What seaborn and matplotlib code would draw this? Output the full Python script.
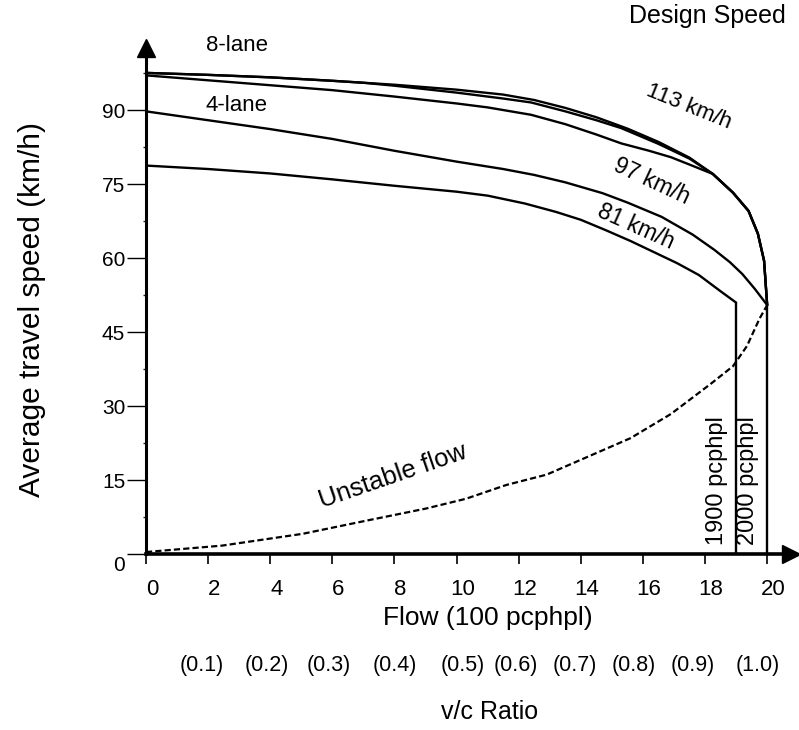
import matplotlib
matplotlib.use("Agg")
import matplotlib.pyplot as plt
import seaborn as sns
from matplotlib.transforms import ScaledTranslation

# speed-flow curves (flow in 100 pcphpl, speed in km/h)
flow_113_8lane = [0, 2, 4, 6, 8, 10, 11.5, 12.5, 13.5, 14.5, 15.5, 16.5, 17.5, 18.25, 18.9, 19.4, 19.7, 19.9, 20.0]
speed_113_8lane = [97.6, 97.2, 96.7, 96.0, 95.2, 94.2, 93.2, 92.1, 90.5, 88.6, 86.3, 83.6, 80.4, 77.1, 73.3, 69.6, 65.0, 59.5, 50.5]

flow_113_mid = [0, 2, 4, 6, 7, 8, 10, 11.5, 12.4, 13.5, 14.5, 15.3, 16.5, 17.5, 18.25, 18.9, 19.4, 19.7, 19.9, 20.0]
speed_113_mid = [97.6, 97.2, 96.7, 96.0, 95.6, 95.0, 93.6, 92.4, 91.6, 89.8, 88.0, 86.4, 83.2, 80.2, 77.1, 73.3, 69.6, 65.0, 59.5, 50.5]

flow_113_4lane = [0, 2, 4, 6, 8, 10, 11, 12.4, 13.5, 14.5, 15.3, 16.2, 16.9, 17.5, 18.25, 18.9, 19.4, 19.7, 19.9, 20.0]
speed_113_4lane = [97.1, 96.1, 95.1, 94.1, 92.8, 91.4, 90.6, 89.1, 87.2, 85.1, 83.3, 81.8, 80.5, 79.0, 77.1, 73.3, 69.6, 65.0, 59.5, 50.5]

flow_97 = [0, 2, 4, 6, 8, 10, 11.5, 12.5, 13.5, 14.7, 15.5, 16.6, 17.6, 18.3, 18.8, 19.2, 19.6, 20.0]
speed_97 = [89.8, 88.0, 86.2, 84.2, 81.8, 79.6, 78.1, 76.9, 75.4, 73.2, 71.3, 68.4, 64.8, 61.7, 59.2, 56.8, 53.8, 50.5]

flow_81 = [0, 2, 4, 6, 8, 10, 11, 12.2, 13.2, 14.0, 14.8, 15.6, 16.4, 17.1, 17.8, 18.5, 19.0]
speed_81 = [78.8, 78.1, 77.2, 76.0, 74.7, 73.5, 72.7, 71.1, 69.4, 67.8, 65.7, 63.5, 61.1, 59.0, 56.6, 53.3, 51.0]

flow_unstable = [0, 2.45, 5.05, 7.2, 9.0, 10.3, 11.6, 12.9, 14.25, 15.6, 16.9, 18.2, 18.9, 19.35, 19.75, 20.0]
speed_unstable = [0.4, 1.7, 4.1, 6.9, 9.2, 11.2, 14.0, 16.1, 19.8, 23.5, 28.4, 34.6, 38.1, 42.2, 47.7, 50.5]

cap_flow_1900 = [19, 19]
cap_speed_1900 = [0, 51.0]
cap_flow_2000 = [20, 20]
cap_speed_2000 = [0, 50.5]

x_ticks = [0, 2, 4, 6, 8, 10, 12, 14, 16, 18, 20]
y_ticks = [0, 15, 30, 45, 60, 75, 90]
vc_flow = [1.8, 3.9, 5.9, 8.0, 10.2, 11.9, 13.8, 15.7, 17.6, 19.7]
vc_labels = ["(0.1)", "(0.2)", "(0.3)", "(0.4)", "(0.5)", "(0.6)", "(0.7)", "(0.8)", "(0.9)", "(1.0)"]

sns.set_theme(style="white")
plt.rcParams['font.family'] = ['Liberation Sans', 'DejaVu Sans']
plt.rcParams['text.color'] = 'black'
plt.rcParams['axes.labelcolor'] = 'black'

fig = plt.figure(figsize=(7.99, 7.30), dpi=100)
ax = fig.add_axes([0.1827, 0.2411, 0.8074, 0.6928])

# solid curves
for fx, sy in [(flow_113_8lane, speed_113_8lane), (flow_113_mid, speed_113_mid),
               (flow_113_4lane, speed_113_4lane), (flow_97, speed_97), (flow_81, speed_81),
               (cap_flow_1900, cap_speed_1900), (cap_flow_2000, cap_speed_2000)]:
    sns.lineplot(x=fx, y=sy, ax=ax, color="black", lw=1.7, sort=False, estimator=None)

# unstable flow branch
sns.lineplot(x=flow_unstable, y=speed_unstable, ax=ax, color="black", lw=1.6,
             sort=False, estimator=None, linestyle=(0, (2.8, 1.4)))

ax.set_xlim(0, 20.77)
ax.set_ylim(0, 102.6)

for s in ["top", "right"]:
    ax.spines[s].set_visible(False)
ax.spines["left"].set_linewidth(2.2)
ax.spines["bottom"].set_linewidth(2.6)
ax.spines["left"].set_color("black")
ax.spines["bottom"].set_color("black")
ax.plot(1, 0, ">", color="black", ms=13, transform=ax.transAxes, clip_on=False)
ax.plot(0, 1, "^", color="black", ms=13, transform=ax.transAxes, clip_on=False)

ax.set_xticks(x_ticks)
ax.set_yticks(y_ticks)
ax.set_yticks([7.5, 22.5, 37.5, 52.5, 67.5, 82.5, 97.5], minor=True)
ax.tick_params(axis="x", direction="out", length=7, width=1.2, pad=11, labelsize=16, colors="black", bottom=True)
ax.tick_params(axis="y", direction="out", length=14, width=1.0, pad=1, labelsize=15, colors="black", left=True)
ax.tick_params(axis="y", which="minor", direction="out", length=2, width=1.0, left=True)

for lbl in ax.get_xticklabels():
    lbl.set_transform(lbl.get_transform() + ScaledTranslation(0.06, 0, fig.dpi_scale_trans))
ylbls = ax.get_yticklabels()
ylbls[0].set_transform(ylbls[0].get_transform() + ScaledTranslation(0, -0.1, fig.dpi_scale_trans))

ax.set_xlabel("Flow (100 pcphpl)", fontsize=19)
ax.xaxis.set_label_coords((488 - 146) / 645, -0.102)
ax.set_ylabel("Average travel speed (km/h)", fontsize=21.5)
ax.yaxis.set_label_coords(-0.155, 0.484)

# v/c ratio scale under the flow axis
sec = ax.secondary_xaxis(-0.188)
sec.set_xticks(vc_flow, labels=vc_labels)
sec.tick_params(length=0, labelsize=15.5, pad=4, colors="black")
sec.spines["bottom"].set_visible(False)
fig.text(490 / 799, 1 - 712 / 730, "v/c Ratio", fontsize=18, ha="center", va="center")

fig.text(707 / 799, 1 - 16 / 730, "Design Speed", fontsize=18, ha="center", va="center")

ax.text(2.93, 103.1, "8-lane", fontsize=16, ha="center", va="center", clip_on=False)
ax.text(2.93, 91.0, "4-lane", fontsize=16, ha="center", va="center")
ax.text(17.48, 90.8, "113 km/h", fontsize=16, rotation=-22, ha="center", va="center")
ax.text(16.29, 75.6, "97 km/h", fontsize=16.5, rotation=-25, ha="center", va="center")
ax.text(15.78, 66.4, "81 km/h", fontsize=16.5, rotation=-24, ha="center", va="center")
ax.text(7.95, 15.7, "Unstable flow", fontsize=18.5, rotation=19, ha="center", va="center")
ax.text(18.4, 14.8, "1900 pcphpl", fontsize=17, rotation=90, ha="center", va="center")
ax.text(19.37, 14.8, "2000 pcphpl", fontsize=17, rotation=90, ha="center", va="center")

fig.savefig("out.png", dpi=100)
